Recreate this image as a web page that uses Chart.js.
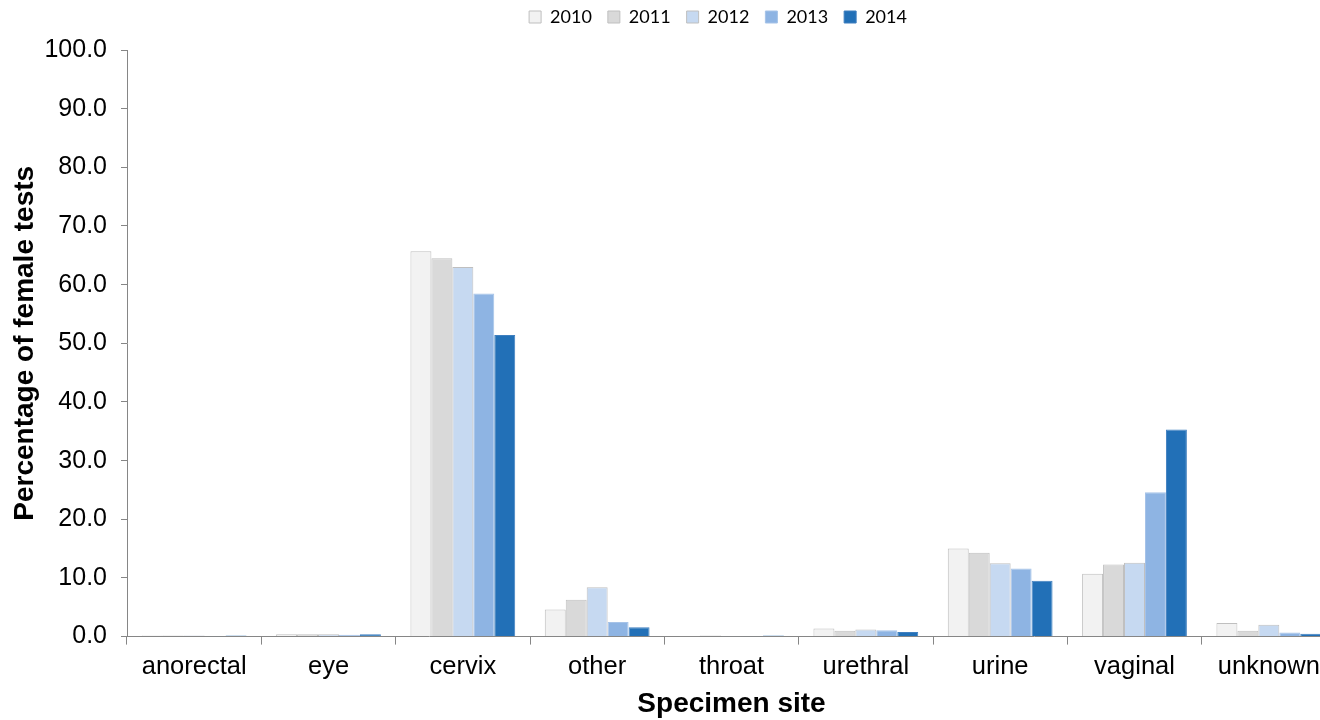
<!DOCTYPE html>
<html>
<head>
<meta charset="utf-8">
<script src="https://cdn.jsdelivr.net/npm/chart.js@4"></script>
<style>
  html, body { margin: 0; padding: 0; background: #fff; overflow: hidden; }
  #wrap { width: 1340px; height: 720px; }
</style>
</head>
<body>
<div id="wrap"><canvas id="siteChart"></canvas></div>
<script>
// Specimen sites and percentage of female tests per year
const sites = ['anorectal', 'eye', 'cervix', 'other', 'throat', 'urethral', 'urine', 'vaginal', 'unknown'];
const years = ['2010', '2011', '2012', '2013', '2014'];

const pct2010 = [0.2, 0.4, 65.7, 4.6, 0.05, 1.4, 15.0, 10.7, 2.3];
const pct2011 = [0.2, 0.4, 64.5, 6.3, 0.2, 1.0, 14.3, 12.3, 1.0];
const pct2012 = [0.2, 0.4, 63.0, 8.4, 0.05, 1.2, 12.5, 12.6, 2.0];
const pct2013 = [0.05, 0.3, 58.5, 2.5, 0.05, 1.1, 11.6, 24.6, 0.7];
const pct2014 = [0.2, 0.4, 51.4, 1.6, 0.2, 0.8, 9.5, 35.3, 0.5];

const yTicks = [0, 10, 20, 30, 40, 50, 60, 70, 80, 90, 100];

const fills = ['#f2f2f2', '#d9d9d9', '#c6d9f1', '#8eb4e3', '#2270b7'];
const borders = ['#bfbfbf', '#bfbfbf', '#bfbfbf', '#a6c3e8', '#3f7fbf'];

const series = [pct2010, pct2011, pct2012, pct2013, pct2014];

// nudge the legend so it sits where the original one does
const legendShift = {
    id: 'legendShift',
    afterLayout(chart) {
        const lg = chart.legend;
        if (!lg) return;
        lg.left += 50;
        lg.right += 50;
        lg.top -= 14;
        lg.bottom -= 14;
    }
};

function createSiteChart() {
    const ctx = document.getElementById('siteChart').getContext('2d');
    new Chart(ctx, {
        type: 'bar',
        data: {
            labels: sites,
            datasets: years.map((y, i) => ({
                label: y,
                data: series[i],
                backgroundColor: fills[i],
                borderColor: borders[i],
                borderWidth: 1,
                categoryPercentage: 0.78,
                barPercentage: 1.0
            }))
        },
        options: {
            responsive: true,
            maintainAspectRatio: false,
            animation: false,
            layout: { padding: { top: 6, right: 4, bottom: 0, left: 0 } },
            plugins: {
                legend: {
                    position: 'top',
                    labels: {
                        font: { family: 'Lato', size: 18 },
                        color: '#000',
                        boxWidth: 12,
                        boxHeight: 12,
                        padding: 16
                    }
                },
                tooltip: { enabled: false }
            },
            scales: {
                x: {
                    grid: {
                        drawOnChartArea: false,
                        drawTicks: true,
                        tickLength: 8,
                        color: '#868686'
                    },
                    border: { color: '#868686' },
                    ticks: {
                        font: { family: 'Liberation Sans', size: 25.5 },
                        color: '#000',
                        padding: 7,
                        maxRotation: 0
                    },
                    title: {
                        display: true,
                        text: 'Specimen site',
                        font: { family: 'Liberation Sans', size: 28, weight: 'bold', lineHeight: 1.1 },
                        color: '#000',
                        padding: { top: 0, bottom: 0 }
                    }
                },
                y: {
                    min: 0,
                    max: 100,
                    afterBuildTicks: scale => {
                        scale.ticks = yTicks.map(v => ({ value: v }));
                    },
                    afterFit: scale => { scale.width = 127; },
                    grid: {
                        drawOnChartArea: false,
                        tickLength: 6,
                        color: '#868686'
                    },
                    border: { color: '#868686' },
                    ticks: {
                        font: { family: 'Liberation Sans', size: 25 },
                        color: '#000',
                        padding: 14,
                        callback: v => v.toFixed(1)
                    },
                    title: {
                        display: true,
                        text: 'Percentage of female tests',
                        font: { family: 'Liberation Sans', size: 28, weight: 'bold' },
                        color: '#000',
                        padding: { top: 8, bottom: 0 }
                    }
                }
            }
        },
        plugins: [legendShift]
    });
}

document.addEventListener('DOMContentLoaded', () => {
    createSiteChart();
});
</script>
</body>
</html>
